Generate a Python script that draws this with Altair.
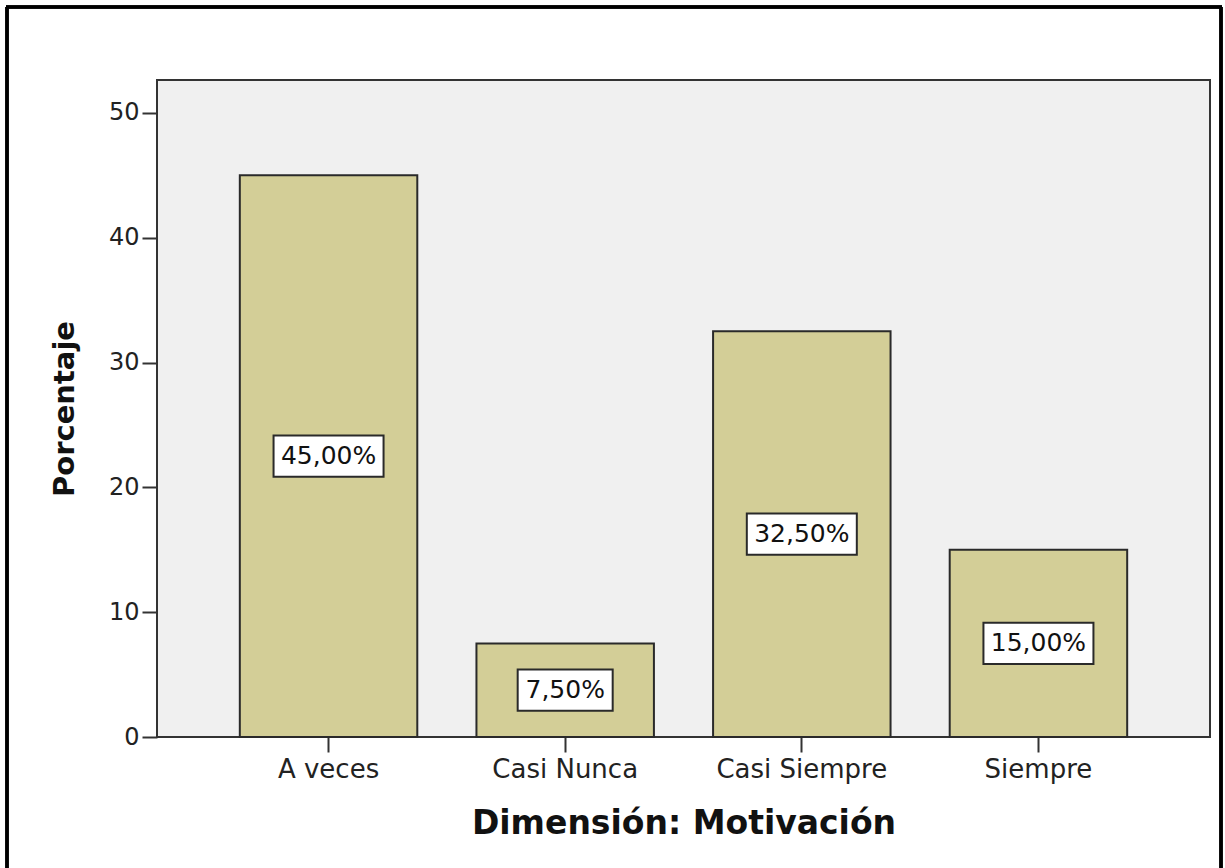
import altair as alt
import pandas as pd

categories = ["A veces", "Casi Nunca", "Casi Siempre", "Siempre"]
values = [45.0, 7.5, 32.5, 15.0]
labels = ["45,00%", "7,50%", "32,50%", "15,00%"]
y_ticks = [0, 10, 20, 30, 40, 50]

df = pd.DataFrame({"cat": categories, "val": values, "lab": labels})
df["mid"] = df["val"] / 2
df["lo"] = df["mid"] - 1.65
df["hi"] = df["mid"] + 1.65
df["n"] = df["lab"].str.len()

FONT = "DejaVu Sans"

x_enc = alt.X("cat:N", sort=categories, title="Dimensión: Motivación",
              scale=alt.Scale(paddingInner=0.25, paddingOuter=0.35),
              axis=alt.Axis(labelAngle=0, labelFont=FONT, labelFontSize=26,
                            labelColor="#222", tickSize=15, tickWidth=2,
                            tickColor="#333", domain=False, labelPadding=4,
                            titleFont=FONT, titleFontSize=33, titleFontWeight="bold",
                            titleColor="#111", titleY=86, titleBaseline="middle"))

bars = alt.Chart(df).mark_bar(color="#D3CE97", stroke="#2a2a2a", strokeWidth=2).encode(
    x=x_enc,
    y=alt.Y("val:Q", title="Porcentaje",
            scale=alt.Scale(domain=[0, 52.64], nice=False, zero=True),
            axis=alt.Axis(values=y_ticks, grid=False, labelFont=FONT, labelFontSize=24,
                          labelColor="#222", tickSize=15, tickWidth=2, tickColor="#333",
                          domain=False, labelPadding=3,
                          titleFont=FONT, titleFontSize=29, titleFontWeight="bold",
                          titleColor="#111", titleX=-93, titleBaseline="middle")),
)

def box(n, w):
    return alt.Chart(df).transform_filter(alt.datum.n == n).mark_bar(
        color="white", stroke="#2a2a2a", strokeWidth=2, width=w
    ).encode(x=alt.X("cat:N", sort=categories), y="lo:Q", y2="hi:Q")

texts = alt.Chart(df).mark_text(font=FONT, fontSize=25, color="#111",
                                baseline="middle", align="center").encode(
    x=alt.X("cat:N", sort=categories), y="mid:Q", text="lab:N")

frame = alt.Chart(df).mark_rule(color="black", strokeWidth=3)
left = frame.encode(x=alt.value(-150), y=alt.value(-73), y2=alt.value(800))
right = frame.encode(x=alt.value(1064), y=alt.value(-73), y2=alt.value(800))
top = frame.encode(y=alt.value(-73), x=alt.value(-151), x2=alt.value(1065))

chart = alt.layer(bars, box(6, 110), box(5, 95), texts, left, right, top).properties(
    width=1053, height=657,
    autosize=alt.AutoSizeParams(type="none"),
    padding={"left": 157, "top": 80, "right": 15, "bottom": 131},
    background="white",
).configure_view(stroke="#333", strokeWidth=2, fill="#F0F0F0")

chart.save("out.html", embed_options={"renderer": "svg", "actions": False})
